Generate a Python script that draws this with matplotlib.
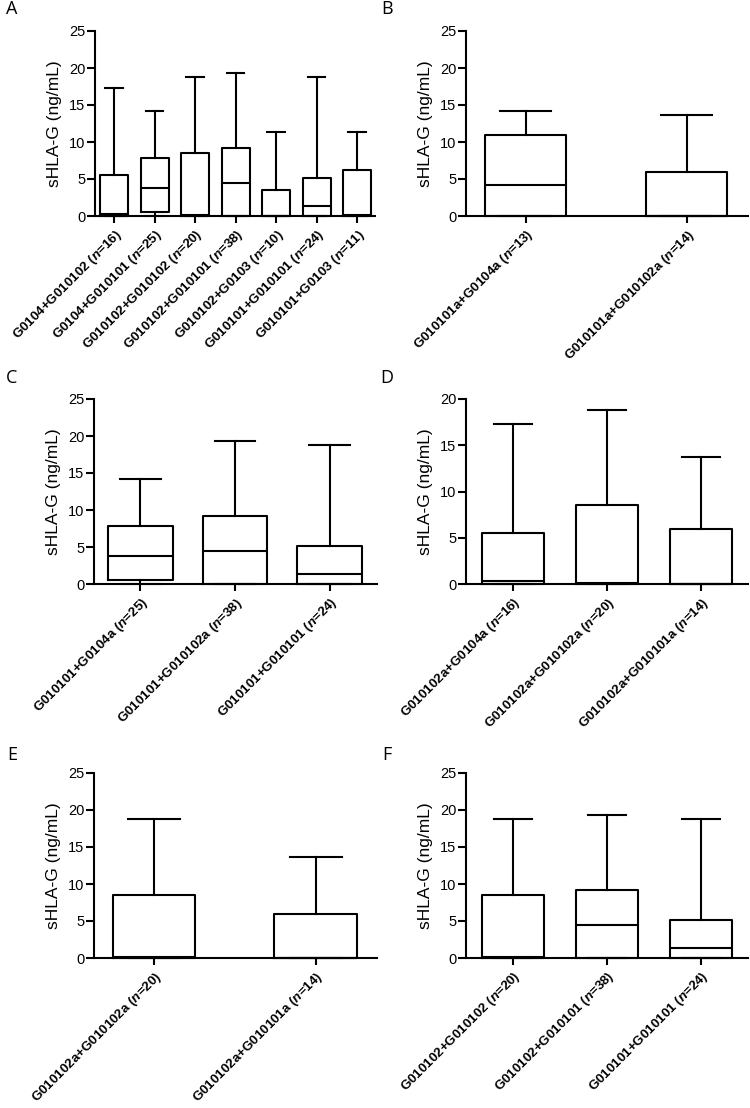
import matplotlib
matplotlib.use("Agg")
import matplotlib.pyplot as plt

plt.rcParams['font.family'] = ['Liberation Sans', 'DejaVu Sans']
plt.rcParams['mathtext.fontset'] = 'custom'
plt.rcParams['mathtext.rm'] = 'Liberation Sans:bold'
plt.rcParams['mathtext.bf'] = 'Liberation Sans:bold'
plt.rcParams['mathtext.it'] = 'Liberation Sans:bold:italic'
plt.rcParams['mathtext.bfit'] = 'Liberation Sans:bold:italic'

# ---- data (ng/mL): min, Q1, median, Q3, max ----
A_labels = ["G0104+G010102", "G0104+G010101", "G010102+G010102", "G010102+G010101",
            "G010102+G0103", "G010101+G010101", "G010101+G0103"]
A_n = [16, 25, 20, 38, 10, 24, 11]
A_min = [0, 0, 0, 0, 0, 0, 0]
A_q1 = [0, 0.6, 0, 0, 0, 0, 0]
A_med = [0.3, 3.8, 0.15, 4.5, 0.0, 1.4, 0.2]
A_q3 = [5.5, 7.8, 8.5, 9.2, 3.5, 5.1, 6.2]
A_max = [17.3, 14.2, 18.8, 19.3, 11.4, 18.8, 11.4]

B_labels = ["G010101a+G0104a", "G010101a+G010102a"]
B_n = [13, 14]
B_min = [0, 0]
B_q1 = [0, 0]
B_med = [4.2, 0.0]
B_q3 = [11.0, 5.9]
B_max = [14.2, 13.7]

C_labels = ["G010101+G0104a", "G010101+G010102a", "G010101+G010101"]
C_n = [25, 38, 24]
C_min = [0, 0, 0]
C_q1 = [0.6, 0, 0]
C_med = [3.8, 4.5, 1.4]
C_q3 = [7.8, 9.2, 5.1]
C_max = [14.2, 19.3, 18.8]

D_labels = ["G010102a+G0104a", "G010102a+G010102a", "G010102a+G010101a"]
D_n = [16, 20, 14]
D_min = [0, 0, 0]
D_q1 = [0, 0, 0]
D_med = [0.3, 0.15, 0.0]
D_q3 = [5.5, 8.5, 5.9]
D_max = [17.3, 18.8, 13.7]

E_labels = ["G010102a+G010102a", "G010102a+G010101a"]
E_n = [20, 14]
E_min = [0, 0]
E_q1 = [0, 0]
E_med = [0.15, 0.0]
E_q3 = [8.5, 5.9]
E_max = [18.8, 13.7]

F_labels = ["G010102+G010102", "G010102+G010101", "G010101+G010101"]
F_n = [20, 38, 24]
F_min = [0, 0, 0]
F_q1 = [0, 0, 0]
F_med = [0.15, 4.5, 1.4]
F_q3 = [8.5, 9.2, 5.1]
F_max = [18.8, 19.3, 18.8]

ylims = {"A": 25, "B": 25, "C": 25, "D": 20, "E": 25, "F": 25}

panels = [
    ("A", A_labels, A_n, A_min, A_q1, A_med, A_q3, A_max, (95, 375, 31, 216), (0.53, 7.44), 0.69),
    ("B", B_labels, B_n, B_min, B_q1, B_med, B_q3, B_max, (466, 748, 31, 216), (0.63, 2.38), 0.50),
    ("C", C_labels, C_n, C_min, C_q1, C_med, C_q3, C_max, (94, 377, 399, 584), (0.51, 3.5), 0.68),
    ("D", D_labels, D_n, D_min, D_q1, D_med, D_q3, D_max, (466, 748, 399, 584), (0.50, 3.5), 0.65),
    ("E", E_labels, E_n, E_min, E_q1, E_med, E_q3, E_max, (94, 377, 773, 958), (0.63, 2.38), 0.51),
    ("F", F_labels, F_n, F_min, F_q1, F_med, F_q3, F_max, (466, 748, 773, 958), (0.50, 3.5), 0.65),
]
letter_pos = {"A": (12, 9), "B": (387, 9), "C": (12, 378), "D": (387, 378), "E": (12, 755), "F": (387, 755)}

W, H = 750, 1108
fig = plt.figure(figsize=(W / 100, H / 100), dpi=100)
lw = 1.5

for key, labels, ns, mins, q1s, meds, q3s, maxs, (L, R, T, B), xl, bw in panels:
    ax = fig.add_axes([L / W, 1 - B / H, (R - L) / W, (B - T) / H])
    stats = []
    for lab, n, mn, q1, md, q3, mx in zip(labels, ns, mins, q1s, meds, q3s, maxs):
        stats.append(dict(label=lab, whislo=mn, q1=q1, med=md, q3=q3, whishi=mx, fliers=[]))
    pos = list(range(1, len(stats) + 1))
    art = ax.bxp(stats, positions=pos, widths=bw, capwidths=bw * 0.63, showfliers=False,
                 boxprops=dict(color='black', linewidth=lw),
                 whiskerprops=dict(color='black', linewidth=lw),
                 capprops=dict(color='black', linewidth=lw),
                 medianprops=dict(color='black', linewidth=lw),
                 manage_ticks=False)
    for group in art.values():
        for a in group:
            a.set_clip_on(False)
    ax.set_xlim(*xl)
    top = ylims[key]
    ax.set_ylim(0, top)
    ax.set_yticks(range(0, top + 1, 5))
    ax.set_xticks(pos)
    ax.set_xticklabels([f"{lab} ($n$={n})" for lab, n in zip(labels, ns)],
                       rotation=45, ha='right', rotation_mode='anchor',
                       fontweight='bold', fontsize=9.6)
    for s in ['top', 'right']:
        ax.spines[s].set_visible(False)
    for s in ['left', 'bottom']:
        ax.spines[s].set_linewidth(lw)
    ax.tick_params(axis='y', length=6, width=lw, pad=1, labelsize=10.5)
    ax.tick_params(axis='x', length=5, width=lw, pad=3)
    ax.set_ylabel("sHLA-G (ng/mL)", fontsize=12.5, labelpad=5)
    lx, ly = letter_pos[key]
    fig.text(lx / W, 1 - ly / H, key, fontsize=13, family='Open Sans', ha='center', va='center')

fig.savefig("out.png", dpi=100)
